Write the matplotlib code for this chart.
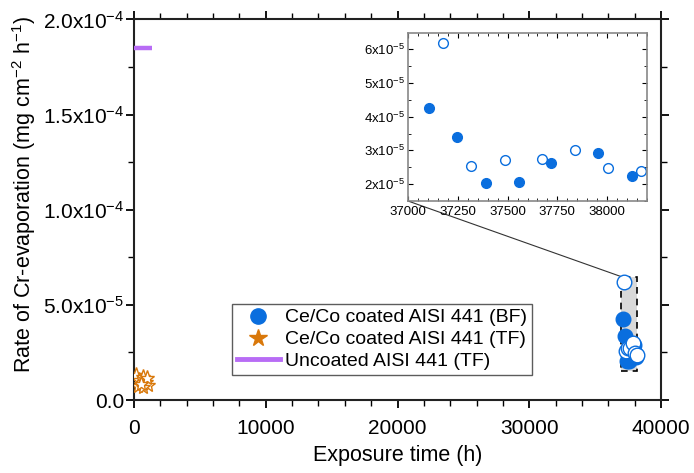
import matplotlib.pyplot as plt
import matplotlib.patches as mpatches
from matplotlib.lines import Line2D
import numpy as np
from matplotlib.ticker import MultipleLocator, AutoMinorLocator, FuncFormatter

plt.rcParams['font.family'] = ['Liberation Sans', 'DejaVu Sans']
plt.rcParams['mathtext.fontset'] = 'custom'
plt.rcParams['mathtext.rm'] = 'Liberation Sans'
plt.rcParams['mathtext.it'] = 'Liberation Sans'

# Ce/Co coated AISI 441 (BF) - filled
bf_time = [37105, 37247, 37390, 37557, 37720, 37955, 38123]
bf_rate = [4.26e-5, 3.39e-5, 2.03e-5, 2.06e-5, 2.63e-5, 2.91e-5, 2.24e-5]
# second BF set - open circles
bf2_time = [37177, 37318, 37485, 37673, 37838, 38005, 38172]
bf2_rate = [6.18e-5, 2.55e-5, 2.71e-5, 2.75e-5, 3.00e-5, 2.47e-5, 2.39e-5]
# Ce/Co coated AISI 441 (TF)
tf_time = [150, 400, 650, 900, 1100, 300, 700, 1000, 500]
tf_rate = [1.30e-5, 1.05e-5, 1.20e-5, 0.95e-5, 0.80e-5, 0.75e-5, 0.70e-5, 1.15e-5, 0.85e-5]
# Uncoated AISI 441 (TF)
unc_time = [0, 1350]
unc_rate = [1.85e-4, 1.85e-4]

blue = '#0a6ede'
orange = '#d9780a'
purple = '#b86cf5'

def sci(v, pos):
    if v == 0:
        return '0.0'
    e = int(np.floor(np.log10(abs(v))))
    m = v / 10**e
    return r'%.1fx10$^{%d}$' % (m, e)

def sci_int(v, pos):
    e = int(np.floor(np.log10(abs(v))))
    m = v / 10**e
    return r'%dx10$^{%d}$' % (round(m), e)

fig = plt.figure(figsize=(6.94, 4.73), dpi=100)
ax = fig.add_axes([134/694, 1-400/473, (661-134)/694, (400-19.5)/473])

ax.plot(unc_time, unc_rate, color=purple, lw=3.2, solid_capstyle='butt', zorder=3)
ax.plot(tf_time, tf_rate, ls='none', marker='*', ms=11, mfc='white', mec=orange,
        mew=1.0, zorder=3)
ax.plot(bf_time, bf_rate, ls='none', marker='o', ms=10.5, mfc=blue, mec=blue, zorder=4)
ax.plot(bf2_time, bf2_rate, ls='none', marker='o', ms=10.5, mfc='white', mec=blue,
        mew=1.0, zorder=5)

x0, x1 = 37000, 38200
y0, y1 = 1.5e-5, 6.48e-5
rect = mpatches.Rectangle((x0, y0), x1 - x0, y1 - y0, facecolor='#d9d9d9',
                          edgecolor='black', ls=(0, (4, 3)), lw=1.2, zorder=2)
ax.add_patch(rect)

ax.set_xlim(0, 40000)
ax.set_ylim(0, 2.0e-4)
ax.xaxis.set_major_locator(MultipleLocator(10000))
ax.xaxis.set_minor_locator(AutoMinorLocator(5))
ax.yaxis.set_major_locator(MultipleLocator(5e-5))
ax.yaxis.set_minor_locator(AutoMinorLocator(2))
ax.yaxis.set_major_formatter(FuncFormatter(sci))
ax.tick_params(which='both', direction='out', top=True, right=True, labelsize=15)
ax.tick_params(which='major', length=6, width=1.3)
ax.tick_params(which='minor', length=4, width=1.0)
ax.tick_params(axis='y', pad=1)
ax.tick_params(axis='x', pad=8)
for s in ax.spines.values():
    s.set_linewidth(1.5)
    s.set_color('#222222')
ax.set_xlabel('Exposure time (h)', fontsize=15.5, labelpad=5)
ax.set_ylabel(r'Rate of Cr-evaporation (mg cm$^{-2}$ h$^{-1}$)', fontsize=15.5)
ax.yaxis.set_label_coords(-0.182, 0.54)

handles = [
    Line2D([], [], ls='none', marker='o', ms=11, mfc=blue, mec=blue),
    Line2D([], [], ls='none', marker='*', ms=13, mfc=orange, mec=orange),
    Line2D([], [], color=purple, lw=3.5),
]
labels = ['Ce/Co coated AISI 441 (BF)', 'Ce/Co coated AISI 441 (TF)', 'Uncoated AISI 441 (TF)']
leg = ax.legend(handles, labels,
                loc='upper left', bbox_to_anchor=((232-134)/527, (400-304)/380.5),
                fontsize=14, frameon=True, fancybox=False, edgecolor='#333333',
                handlelength=2.2, handletextpad=0.3, borderpad=0.25, labelspacing=0.22,
                borderaxespad=0)
leg.get_frame().set_linewidth(1.0)

# inset
axi = fig.add_axes([408/694, 1-201/473, (647-408)/694, (201-33)/473])
axi.plot(bf_time, bf_rate, ls='none', marker='o', ms=7, mfc=blue, mec=blue)
axi.plot(bf2_time, bf2_rate, ls='none', marker='o', ms=7, mfc='white', mec=blue, mew=1.0)
axi.set_xlim(x0, x1)
axi.set_ylim(y0, y1)
axi.xaxis.set_major_locator(MultipleLocator(250))
axi.xaxis.set_minor_locator(AutoMinorLocator(5))
axi.yaxis.set_major_locator(MultipleLocator(1e-5))
axi.yaxis.set_minor_locator(AutoMinorLocator(2))
axi.yaxis.set_major_formatter(FuncFormatter(sci_int))
axi.tick_params(which='both', direction='in', top=True, right=True, labelsize=9.5)
axi.tick_params(which='major', length=3.5, width=0.8)
axi.tick_params(which='minor', length=2, width=0.6)
axi.tick_params(axis='y', pad=2)
for s in axi.spines.values():
    s.set_linewidth(1.2)
    s.set_color('#888888')

# connector line from rectangle corner to inset corner
ax.annotate('', xy=(0, 0), xycoords=axi.transAxes, xytext=(x0, y1),
            textcoords='data', arrowprops=dict(arrowstyle='-', color='#333333', lw=0.8,
                                               shrinkA=0, shrinkB=0))

fig.savefig('out.png', dpi=100)
